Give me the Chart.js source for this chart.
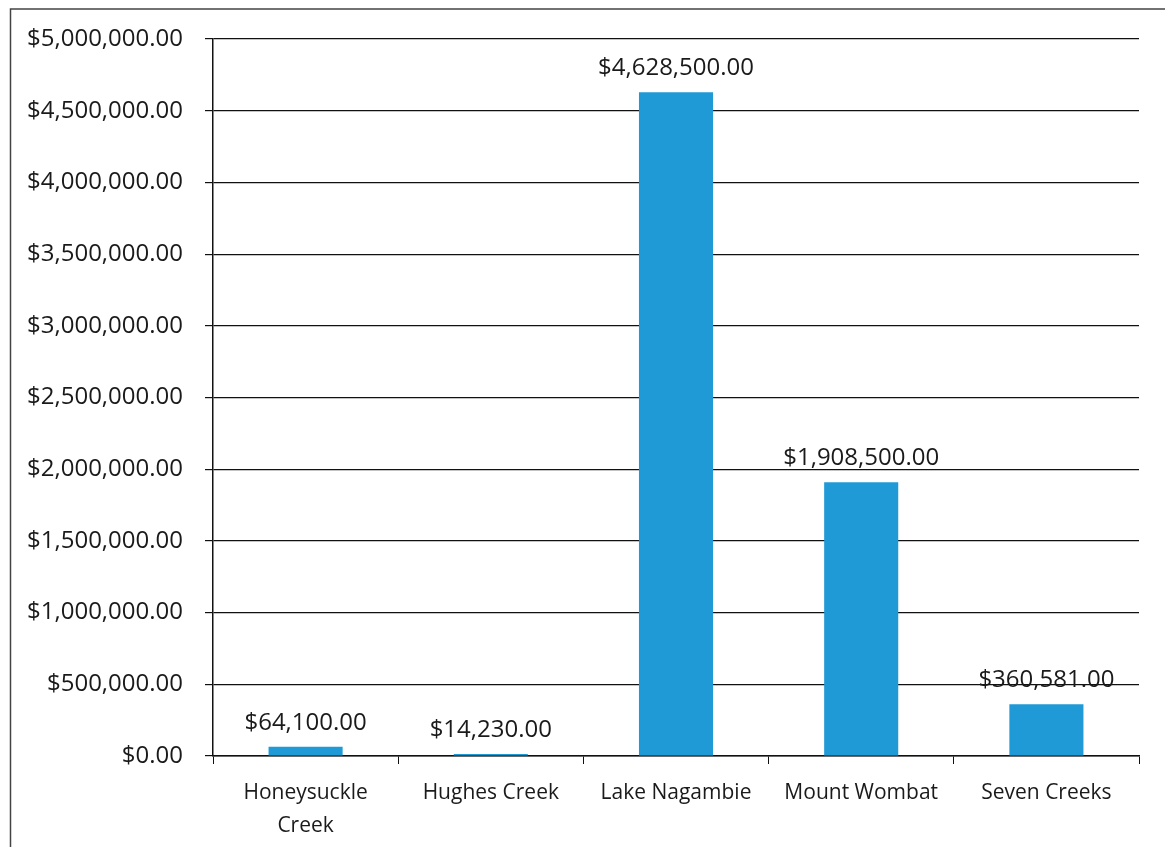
<!DOCTYPE html>
<html>
<head>
<meta charset="utf-8">
<script src="https://cdn.jsdelivr.net/npm/chart.js@4"></script>
<style>
  html, body { margin: 0; padding: 0; background: #fff; }
  #wrap { width: 1165px; height: 847px; position: relative; }
</style>
</head>
<body>
<div id="wrap"><canvas id="costChart"></canvas></div>
<script>
// Chart data
const categories = [["Honeysuckle", "Creek"], "Hughes Creek", "Lake Nagambie", "Mount Wombat", "Seven Creeks"];
const costs = [64100, 14230, 4628500, 1908500, 360581];
const yTicks = [0, 500000, 1000000, 1500000, 2000000, 2500000, 3000000, 3500000, 4000000, 4500000, 5000000];

const fontFamily = "'Open Sans', 'Noto Sans', sans-serif";
const money = v => "$" + v.toLocaleString("en-US", { minimumFractionDigits: 2, maximumFractionDigits: 2 });

// outer frame (left + top edge of the scanned chart box)
const framePlugin = {
    id: "frame",
    beforeDraw(chart) {
        const c = chart.ctx;
        c.save();
        c.strokeStyle = "#444";
        c.lineWidth = 1.5;
        c.beginPath();
        c.moveTo(10.5, 847);
        c.lineTo(10.5, 9);
        c.lineTo(1165, 9);
        c.stroke();
        c.restore();
    }
};

// value labels above each bar
const valueLabels = {
    id: "valueLabels",
    afterDatasetsDraw(chart) {
        const c = chart.ctx;
        const meta = chart.getDatasetMeta(0);
        c.save();
        c.font = "24px " + fontFamily;
        c.fillStyle = "#1a1a1a";
        c.textAlign = "center";
        c.textBaseline = "bottom";
        meta.data.forEach((bar, i) => {
            c.fillText(money(costs[i]), bar.x, bar.y - 12);
        });
        c.restore();
    }
};

const ctx = document.getElementById("costChart").getContext("2d");
new Chart(ctx, {
    type: "bar",
    data: {
        labels: categories,
        datasets: [{
            data: costs,
            backgroundColor: "#1f9ad6",
            barPercentage: 0.8,
            categoryPercentage: 0.5
        }]
    },
    options: {
        responsive: true,
        maintainAspectRatio: false,
        animation: false,
        layout: { padding: { top: 39, right: 26, left: 0, bottom: 0 } },
        plugins: {
            legend: { display: false },
            tooltip: { enabled: false }
        },
        scales: {
            x: {
                afterFit: s => { s.height = 91; },
                grid: { drawOnChartArea: false, drawTicks: true, tickLength: 8, color: "#111", offset: true },
                border: { display: true, color: "#111", width: 1.5 },
                ticks: {
                    color: "#1a1a1a",
                    font: { family: fontFamily, size: 21, lineHeight: 1.6 },
                    padding: 12,
                    maxRotation: 0,
                    autoSkip: false
                }
            },
            y: {
                min: 0,
                max: 5000000,
                afterFit: s => { s.width = 213; },
                afterBuildTicks: s => { s.ticks = yTicks.map(v => ({ value: v })); },
                grid: { color: "#111", lineWidth: 1.2, tickLength: 8 },
                border: { display: true, color: "#111", width: 1.5 },
                ticks: {
                    color: "#1a1a1a",
                    font: { family: fontFamily, size: 24 },
                    padding: 22,
                    callback: v => money(v)
                }
            }
        }
    },
    plugins: [framePlugin, valueLabels]
});
</script>
</body>
</html>
